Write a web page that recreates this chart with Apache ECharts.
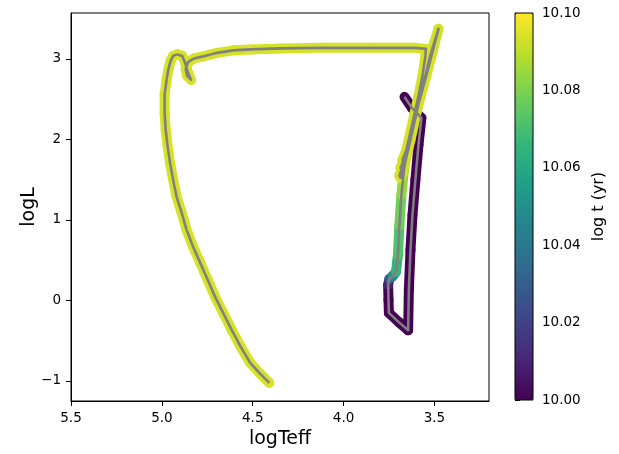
<!DOCTYPE html>
<html>
<head>
<meta charset="utf-8">
<script src="https://cdn.jsdelivr.net/npm/echarts@6/dist/echarts.min.js"></script>
<style>
  html, body { margin: 0; padding: 0; background: #fff; }
  #chart { width: 619px; height: 454px; }
</style>
</head>
<body>
<div id="chart"></div>
<script>
// evolutionary track, in plotting order
const logTeff = [
  3.665, 3.623, 3.572, 3.588, 3.605, 3.621, 3.632, 3.641, 3.645,
  3.698, 3.751, 3.753, 3.755, 3.748, 3.731, 3.712,
  3.701, 3.693, 3.682, 3.668, 3.649, 3.627, 3.605, 3.577, 3.544, 3.511, 3.478,
  3.522, 3.583, 3.632, 3.665,
  3.687, 3.671, 3.693, 3.676, 3.687, 3.665, 3.676, 3.654,
  3.632, 3.610, 3.588, 3.566, 3.550, 3.547,
  3.605, 3.853, 4.128, 4.348, 4.514, 4.607, 4.696, 4.773, 4.822, 4.855, 4.869, 4.861, 4.839,
  4.858, 4.872, 4.888, 4.916, 4.938, 4.952, 4.966,
  4.974, 4.985, 4.985, 4.979, 4.968, 4.955, 4.938, 4.919, 4.891, 4.864,
  4.828, 4.789, 4.748, 4.707, 4.663, 4.616, 4.566, 4.514, 4.461, 4.409
]
const logL = [
  2.528, 2.388, 2.267, 1.932, 1.497, 1.062, 0.627, 0.130, -0.370,
  -0.267, -0.155, 0.006, 0.193, 0.267, 0.298, 0.354,
  0.565, 0.938, 1.311, 1.621, 1.870, 2.118, 2.304, 2.528, 2.801, 3.087, 3.373,
  3.050, 2.491, 1.994, 1.683,
  1.522, 1.596, 1.547, 1.671, 1.646, 1.770, 1.745, 1.870,
  2.093, 2.317, 2.540, 2.789, 3.037, 3.124,
  3.137, 3.137, 3.137, 3.130, 3.118, 3.106, 3.075, 3.031, 3.006, 2.963, 2.876, 2.789, 2.739,
  2.839, 2.950, 3.037, 3.056, 3.037, 2.975, 2.851,
  2.739, 2.553, 2.329, 2.118, 1.907, 1.708, 1.497, 1.286, 1.087, 0.876,
  0.665, 0.466, 0.255, 0.043, -0.155, -0.366, -0.578, -0.776, -0.907, -1.025
]
const logAge = [
  10.0, 10.0, 10.0, 10.0, 10.0, 10.0, 10.0, 10.0, 10.0,
  10.0, 10.0, 10.0, 10.01, 10.03, 10.048, 10.066,
  10.072, 10.078, 10.084, 10.089, 10.091, 10.092, 10.093, 10.093, 10.093, 10.093, 10.093,
  10.094, 10.094, 10.094, 10.094,
  10.094, 10.094, 10.094, 10.094, 10.094, 10.094, 10.094, 10.094,
  10.094, 10.094, 10.094, 10.094, 10.094, 10.094,
  10.094, 10.094, 10.094, 10.094, 10.094, 10.094, 10.094, 10.094, 10.094, 10.094, 10.094, 10.094, 10.094,
  10.094, 10.094, 10.094, 10.094, 10.094, 10.094, 10.094,
  10.094, 10.094, 10.094, 10.094, 10.094, 10.094, 10.094, 10.094, 10.094, 10.094,
  10.094, 10.094, 10.094, 10.094, 10.094, 10.094, 10.094, 10.094, 10.094, 10.094
]

const xTicks = [3.5, 4.0, 4.5, 5.0, 5.5]
const yTicks = [-1, 0, 1, 2, 3]
const ageTicks = [10.00, 10.02, 10.04, 10.06, 10.08, 10.10]

const viridis = ['#440154', '#482878', '#3e4989', '#31688e', '#26828e',
  '#1f9e89', '#35b779', '#6ece58', '#b5de2b', '#fde725']

// one segment per pair of neighbouring points, coloured by the first point's age
const segments = []
for (let i = 0; i < logTeff.length - 1; i++) {
  segments.push([logTeff[i], logL[i], logAge[i], logTeff[i + 1], logL[i + 1]])
}
const track = logTeff.map((t, i) => [t, logL[i]])

const font = 'DejaVu Sans'
const chart = echarts.init(document.getElementById('chart'), null, { renderer: 'canvas' })

const option = {
  backgroundColor: '#fff',
  animation: false,
  textStyle: { fontFamily: font, color: '#000' },
  grid: [
    { left: 71, top: 13, width: 418, height: 388, show: true, borderColor: '#000', borderWidth: 1,
      containLabel: false, outerBoundsMode: 'none' },
    { left: 515, top: 13, width: 18, height: 387, show: true, borderColor: '#000', borderWidth: 1,
      z: 10, containLabel: false, outerBoundsMode: 'none' }
  ],
  xAxis: [
    {
      type: 'value', gridIndex: 0, min: 3.2, max: 5.5, inverse: true,
      name: 'logTeff', nameLocation: 'middle', nameGap: 29, nameMoveOverlap: false,
      nameTextStyle: { fontSize: 19, fontFamily: font, color: '#000' },
      axisLine: { show: true, onZero: false, lineStyle: { color: '#000', width: 1 } },
      axisTick: { show: true, inside: false, length: 5, customValues: xTicks, lineStyle: { color: '#000' } },
      axisLabel: { customValues: xTicks, margin: 10, fontSize: 13.5, fontFamily: font, color: '#000',
        formatter: v => v.toFixed(1) },
      splitLine: { show: false }
    },
    { type: 'value', gridIndex: 1, min: 0, max: 1, show: false }
  ],
  yAxis: [
    {
      type: 'value', gridIndex: 0, min: -1.25, max: 3.57,
      name: 'logL', nameLocation: 'middle', nameGap: 32, nameRotate: 90, nameMoveOverlap: false,
      nameTextStyle: { fontSize: 19, fontFamily: font, color: '#000' },
      axisLine: { show: true, onZero: false, lineStyle: { color: '#000', width: 1 } },
      axisTick: { show: true, inside: false, length: 5, customValues: yTicks, lineStyle: { color: '#000' } },
      axisLabel: { customValues: yTicks, margin: 10, fontSize: 13.5, fontFamily: font, color: '#000',
        formatter: v => (v < 0 ? '\u2212' + Math.abs(v) : String(v)) },
      splitLine: { show: false }
    },
    {
      type: 'value', gridIndex: 1, min: 10.0, max: 10.1, position: 'right',
      name: 'log t (yr)', nameLocation: 'middle', nameGap: 58, nameRotate: 90, nameMoveOverlap: false,
      nameTextStyle: { fontSize: 16, fontFamily: font, color: '#000' },
      axisLine: { show: false },
      axisTick: { show: true, inside: false, length: 5, customValues: ageTicks, lineStyle: { color: '#000' } },
      axisLabel: { customValues: ageTicks, margin: 9, fontSize: 13.5, fontFamily: font, color: '#000',
        formatter: v => v.toFixed(2) },
      splitLine: { show: false }
    }
  ],
  visualMap: {
    type: 'continuous',
    seriesIndex: 0,
    dimension: 2,
    min: 10.0,
    max: 10.1,
    calculable: false,
    realtime: false,
    hoverLink: false,
    text: null,
    showLabel: false,
    orient: 'vertical',
    left: 515,
    top: 13,
    itemWidth: 18,
    itemHeight: 387,
    padding: 0,
    inRange: { color: viridis },
    outOfRange: { color: viridis[0] }
  },
  series: [
    {
      type: 'custom',
      xAxisIndex: 0,
      yAxisIndex: 0,
      encode: { x: [0, 3], y: [1, 4] },
      data: segments,
      renderItem: function (params, api) {
        const p0 = api.coord([api.value(0), api.value(1)])
        const p1 = api.coord([api.value(3), api.value(4)])
        return {
          type: 'line',
          shape: { x1: p0[0], y1: p0[1], x2: p1[0], y2: p1[1] },
          style: { stroke: api.visual('color'), lineWidth: 10, lineCap: 'round' }
        }
      },
      z: 2
    },
    {
      type: 'line',
      xAxisIndex: 0,
      yAxisIndex: 0,
      data: track,
      showSymbol: false,
      symbol: 'none',
      lineStyle: { color: '#808080', width: 2.6, join: 'round' },
      z: 3
    }
  ]
}

chart.setOption(option)
</script>
</body>
</html>
